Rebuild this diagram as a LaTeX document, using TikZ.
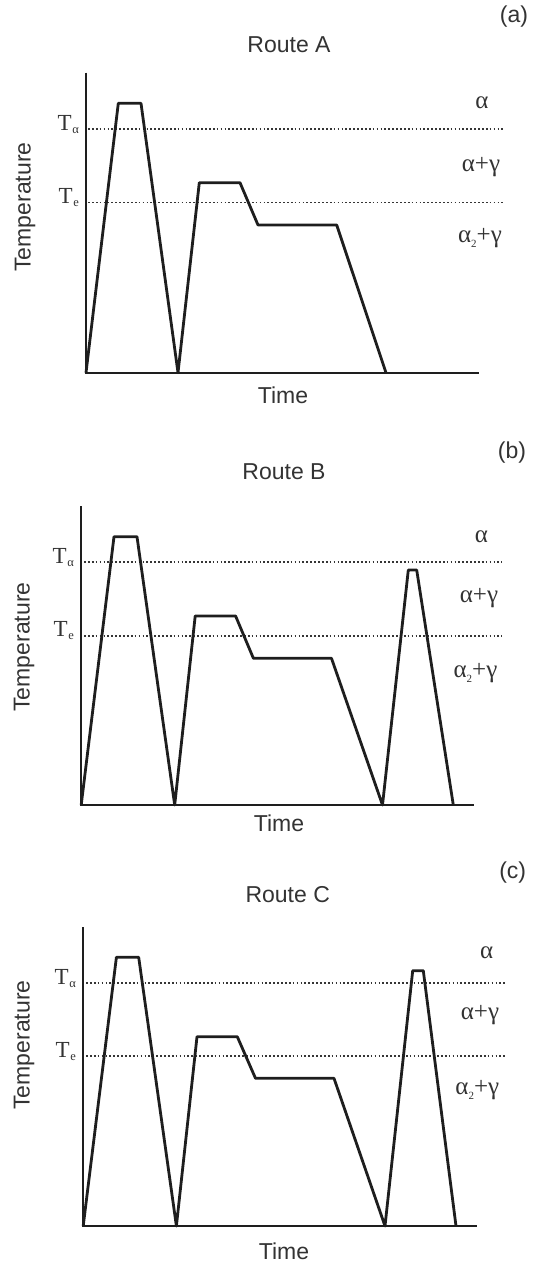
\documentclass[tikz,border=0pt]{standalone}
\usepackage{fontspec}
\setmainfont{Liberation Serif}
\newfontfamily\labelsans{Liberation Sans}
\definecolor{ink}{HTML}{1E1E1E}
\definecolor{txt}{HTML}{333333}
\tikzset{
  axisline/.style={draw=ink, line width=2.3pt},
  curve/.style={draw=ink, line width=2.8pt, line join=round},
  levelline/.style={draw=ink!90, line width=1.9pt, dash pattern=on 1.7pt off 2.2pt},
  sanslabel/.style={inner sep=0pt, text=txt, font=\labelsans\fontsize{23}{26}\selectfont},
  phaselabel/.style={inner sep=0pt, text=txt, font=\fontsize{25}{28}\selectfont},
  templabel/.style={inner sep=0pt, text=txt, anchor=base east, font=\fontsize{23}{26}\selectfont},
}
\newcommand{\sublow}[1]{\raisebox{-0.45ex}{\fontsize{11}{12}\selectfont #1}}
\newcommand{\subtemp}[1]{\kern0.5pt\raisebox{-0.3ex}{\fontsize{12.5}{13}\selectfont #1}}
\begin{document}
\begin{tikzpicture}[x=1pt,y=-1pt]
\useasboundingbox (0,0) rectangle (537,1263);

% ---------------- Route A ----------------
\node[sanslabel] (titleA) at (289,45) {Route A};
\node[sanslabel] (tagA) at (514,17) {(a)};
\node[sanslabel] (timeA) at (283,395) {Time};
\node[sanslabel, rotate=90] (tempA) at (25,207) {Temperature};
\node[templabel] (TaA) at (79,130) {T\subtemp{α}};
\node[templabel] (TeA) at (79,203.5) {T\subtemp{e}};
\node[phaselabel] (pa1) at (482,103) {α};
\node[phaselabel] (pa2) at (481,167) {α+γ};
\node[phaselabel] (pa3) at (480,238) {α\sublow{2}+γ};
\draw[levelline] (88,129) -- (505,129);
\draw[levelline] (88,202.5) -- (505,202.5);
\draw[axisline] (86,72.7) -- (86,372.7) -- (479.3,372.7);
\draw[curve] (86,372.7) -- (118.3,103.3) -- (141,103.3) -- (178,372.7)
  -- (199.3,182.7) -- (240,182.7) -- (258,225) -- (336.7,225) -- (386,372.7);

% ---------------- Route B ----------------
\node[sanslabel] (titleB) at (284,471.7) {Route B};
\node[sanslabel] (tagB) at (512,453) {(b)};
\node[sanslabel] (timeB) at (279,823) {Time};
\node[sanslabel, rotate=90] (tempB) at (24,647) {Temperature};
\node[templabel] (TaB) at (74,563.3) {T\subtemp{α}};
\node[templabel] (TeB) at (74,636.7) {T\subtemp{e}};
\node[phaselabel] (pb1) at (481.5,536.5) {α};
\node[phaselabel] (pb2) at (479,598.5) {α+γ};
\node[phaselabel] (pb3) at (475.5,673) {α\sublow{2}+γ};
\draw[levelline] (84,562.3) -- (501.7,562.3);
\draw[levelline] (84,635.7) -- (501.7,635.7);
\draw[axisline] (81.2,506) -- (81.2,805) -- (474.3,805);
\draw[curve] (81.2,805) -- (114,536.7) -- (137,536.7) -- (174.7,805)
  -- (195.2,616) -- (235.6,616) -- (253.4,658.3) -- (331.5,658.3) -- (382.5,805)
  -- (408.3,570) -- (416.7,570) -- (453.3,805);

% ---------------- Route C ----------------
\node[sanslabel] (titleC) at (287.7,895) {Route C};
\node[sanslabel] (tagC) at (512.7,873) {(c)};
\node[sanslabel] (timeC) at (284,1251) {Time};
\node[sanslabel, rotate=90] (tempC) at (24,1045) {Temperature};
\node[templabel] (TaC) at (76,984) {T\subtemp{α}};
\node[templabel] (TeC) at (76,1057.3) {T\subtemp{e}};
\node[phaselabel] (pc1) at (486.7,953) {α};
\node[phaselabel] (pc2) at (480,1015) {α+γ};
\node[phaselabel] (pc3) at (477.3,1090) {α\sublow{2}+γ};
\draw[levelline] (86,983) -- (506.7,983);
\draw[levelline] (86,1056.3) -- (506.7,1056.3);
\draw[axisline] (83.2,927.3) -- (83.2,1226) -- (476.5,1226);
\draw[curve] (83.2,1226) -- (116.4,957.3) -- (138.7,957.3) -- (176.4,1226)
  -- (197,1036.7) -- (237.3,1036.7) -- (255.5,1078.3) -- (334,1078.3) -- (385,1226)
  -- (412.7,970.7) -- (423.3,970.7) -- (456,1226);
\end{tikzpicture}
\end{document}
